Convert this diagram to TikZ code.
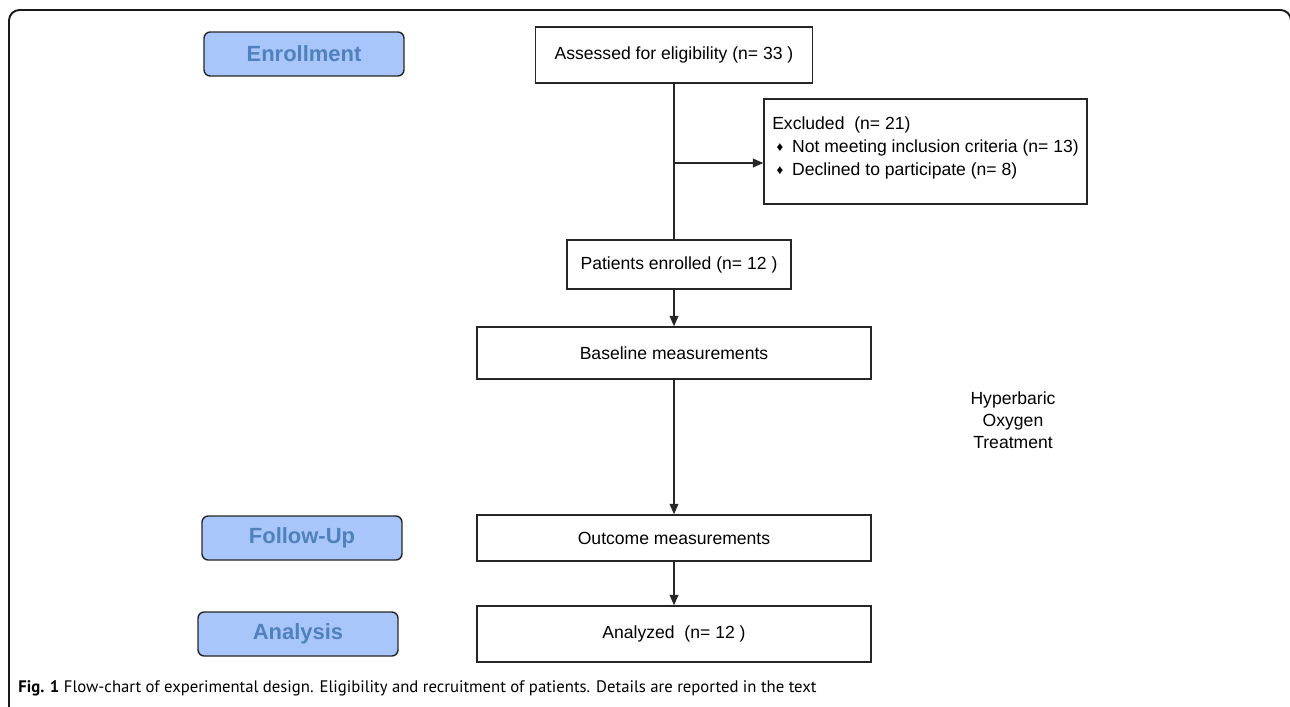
\documentclass[tikz,border=0pt]{standalone}
\usepackage{fontspec}
\setmainfont{Liberation Sans}
\newfontfamily\capfont{PT Sans}
\usetikzlibrary{arrows.meta}

\definecolor{phasefill}{RGB}{169,198,250}
\definecolor{phasetext}{RGB}{79,129,189}

\tikzset{
  phase/.style={draw=black!85, line width=0.8pt, rounded corners=3.5pt, fill=phasefill,
    text=phasetext, font=\fontsize{12.5}{14}\selectfont\bfseries,
    minimum width=4cm, minimum height=0.88cm, inner sep=0pt},
  box/.style={draw=black!85, line width=0.8pt, font=\fontsize{10}{13}\selectfont,
    inner sep=0pt},
  link/.style={black!85, line width=0.8pt},
  tip/.style={link, -{Triangle[length=6pt,width=5pt]}}
}

\newcommand{\bul}{\hspace{2.5pt}\raisebox{0.5pt}{\fontsize{7.5}{7}\selectfont\char"2666}\hspace{0.5em}}

\begin{document}
\begin{tikzpicture}[x=0.02cm, y=-0.02cm]

\useasboundingbox (0,0) rectangle (1290,706);
\clip (0,0) rectangle (1290,706);

\draw[black!90, line width=1.1pt, rounded corners=6pt] (9,10) rectangle (1291,730);

\node(enroll)[phase] at (304,54) {Enrollment};
\node(follow)[phase] at (302,538) {Follow-Up};
\node(analysis)[phase] at (298,634) {Analysis};

\node(assessed)[box, minimum width=5.54cm, minimum height=1.12cm] at (674,55) {Assessed for eligibility (n= 33 )};
\node(excluded)[box, minimum width=6.46cm, minimum height=2.1cm, align=left] at (925.5,151.5)
  {Excluded\ \ (n= 21)\\ \bul Not meeting inclusion criteria (n= 13)\\ \bul Declined to participate (n= 8)\\[-6.9pt]};
\node(enrolled)[box, minimum width=4.48cm, minimum height=0.98cm] at (679,264.5) {Patients enrolled (n= 12 )};
\node(baseline)[box, minimum width=7.88cm, minimum height=1.04cm] at (674,353) {Baseline measurements};
\node(outcome)[box, minimum width=7.88cm, minimum height=0.92cm] at (674,538) {Outcome measurements};
\node(analyzed)[box, minimum width=7.88cm, minimum height=1.12cm] at (674,634) {Analyzed\ \ (n= 12 )};

\node(hbot)[align=center, font=\fontsize{10}{12.5}\selectfont] at (1013,420) {Hyperbaric\\Oxygen\\ Treatment};

\coordinate(split) at (674,163);
\draw[link] (assessed.south -| split) -- (enrolled.north -| split);
\draw[tip] (split) -- (excluded.west |- split);
\draw[tip] (enrolled.south -| split) -- (baseline.north);
\draw[tip] (baseline.south) -- (outcome.north);
\draw[tip] (outcome.south) -- (analyzed.north);

\node(caption)[anchor=west, inner sep=0pt, font=\capfont\fontsize{9.5}{11}\selectfont] at (18,688)
  {\textbf{Fig. 1} Flow-chart of experimental design. Eligibility and recruitment of patients. Details are reported in the text};

\end{tikzpicture}
\end{document}
